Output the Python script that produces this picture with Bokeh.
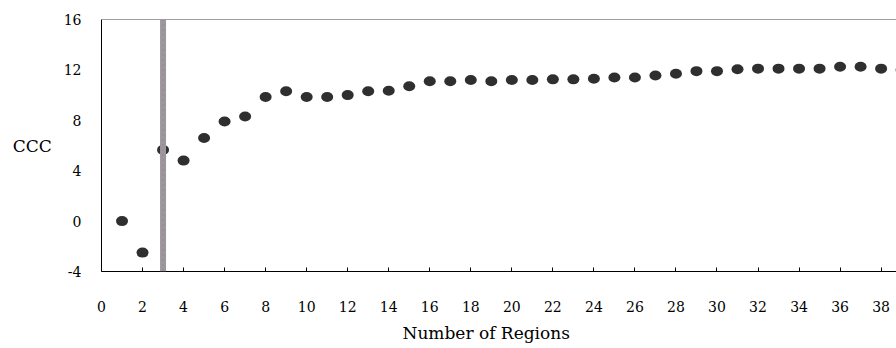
from bokeh.plotting import figure
from bokeh.models import Span, Title, FixedTicker, Range1d
from bokeh.embed import file_html
from bokeh.resources import INLINE

# Data
regions = list(range(1, 40))
ccc = [0.0, -2.5, 5.65, 4.8, 6.6, 7.9, 8.3, 9.85, 10.3, 9.85,
       9.85, 10.0, 10.3, 10.35, 10.7, 11.1, 11.1, 11.2, 11.1, 11.2,
       11.2, 11.25, 11.25, 11.3, 11.4, 11.4, 11.55, 11.7, 11.9, 11.9,
       12.05, 12.1, 12.1, 12.1, 12.1, 12.25, 12.25, 12.1, 12.0]
selected_regions = 3
x_ticks = list(range(0, 39, 2))
y_ticks = [-4, 0, 4, 8, 12, 16]
y_tick_labels = {-4: "-4", 0: "0", 4: "4", 8: "8", 12: "12", 16: "16"}

FONT = "DejaVu Serif"

p = figure(width=896, height=348, output_backend="svg", toolbar_location=None,
           x_range=Range1d(0, 38.75), y_range=Range1d(-4, 16),
           min_border_left=101, min_border_right=0, min_border_top=19,
           min_border_bottom=77)
p.outline_line_color = None
p.grid.visible = False
p.background_fill_color = "white"
p.border_fill_color = "white"

# x axis
xa = p.xaxis[0]
xa.ticker = FixedTicker(ticks=x_ticks)
xa.major_tick_in = 4
xa.major_tick_out = 0
xa.minor_tick_line_color = None
xa.axis_line_color = "black"
xa.major_tick_line_color = "black"
xa.major_label_standoff = 29
xa.major_label_text_font = FONT
xa.major_label_text_font_size = "14px"
xa.major_label_text_color = "black"

# y axis
ya = p.yaxis[0]
ya.ticker = FixedTicker(ticks=y_ticks)
ya.major_label_overrides = y_tick_labels
ya.major_tick_in = 0
ya.major_tick_out = 0
ya.minor_tick_line_color = None
ya.axis_line_color = "black"
ya.major_label_standoff = 20
ya.major_label_text_font = FONT
ya.major_label_text_font_size = "14px"
ya.major_label_text_color = "black"
ya.axis_label = "CCC"
ya.axis_label_orientation = "horizontal"
ya.axis_label_standoff = 9
ya.axis_label_text_font = FONT
ya.axis_label_text_font_size = "17px"
ya.axis_label_text_font_style = "normal"
ya.axis_label_text_color = "black"

# top border
p.add_layout(Span(location=16, dimension="width", line_color="#404040", line_width=1))

# selected number of regions marker
p.add_layout(Span(location=selected_regions, dimension="height",
                  line_color="#999999", line_width=6))
p.add_layout(Span(location=selected_regions, dimension="height",
                  line_color="#e040e0", line_width=1, line_dash="1 4"))

p.ellipse(x=regions, y=ccc, width=12, height=10, width_units="screen",
          height_units="screen", fill_color="#2f2f2f", line_color=None)

p.add_layout(Title(text="Number of Regions", align="left", offset=301,
                   text_font=FONT, text_font_size="17px", text_font_style="normal",
                   text_color="black", standoff=12), "below")

open("out.html", "w").write(file_html(p, INLINE))
